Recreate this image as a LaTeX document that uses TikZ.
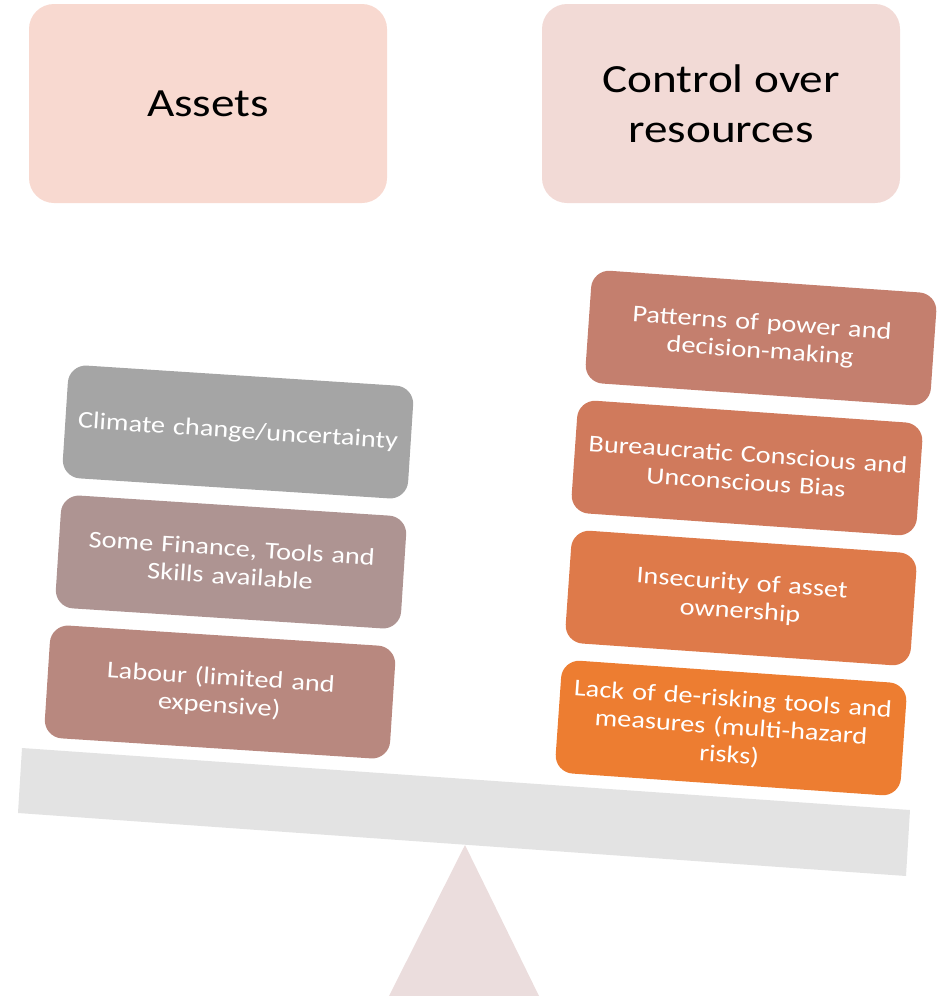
\documentclass[tikz,border=0pt]{standalone}
\usepackage{fontspec}
\setmainfont{Carlito}[FakeStretch=1.18]
\definecolor{hdrA}{HTML}{F8D9D0}
\definecolor{hdrB}{HTML}{F2DAD6}
\definecolor{cClimate}{HTML}{A5A5A5}
\definecolor{cFinance}{HTML}{AE9492}
\definecolor{cLabour}{HTML}{B8887F}
\definecolor{cPatterns}{HTML}{C47F6E}
\definecolor{cBureau}{HTML}{D07A5C}
\definecolor{cInsec}{HTML}{DE7A4A}
\definecolor{cLack}{HTML}{ED7D31}
\definecolor{cBeam}{HTML}{E3E3E3}
\definecolor{cFulcrum}{HTML}{EBDDDD}
\tikzset{
  header/.style={rounded corners=25pt, minimum width=358pt, minimum height=199pt,
    inner sep=0pt, align=center, font=\fontsize{40}{50}\selectfont, text=black},
  block/.style={rounded corners=18pt, minimum width=346pt, minimum height=113pt,
    inner sep=0pt, text width=340pt, align=center, text=white,
    font=\fontsize{24}{28}\selectfont},
  leftblock/.style={block, rotate=-3.7},
  rightblock/.style={block, rotate=-4},
}
\begin{document}
\begin{tikzpicture}[x=1pt,y=-1pt]
\useasboundingbox (0,0) rectangle (947,996);
% headers
\node[header, fill=hdrA] (assets) at (208,103.5) {Assets};
\node[header, fill=hdrB] (control) at (721,103.5) {Control over\\resources};
% fulcrum and beam
\fill[cFulcrum] (465,845) -- (539,996) -- (389,996) -- cycle;
\fill[cBeam] (22,748) -- (910,810) -- (906,876) -- (18,813) -- cycle;
% left stack
\node[leftblock, fill=cClimate] (climate) at (238,432) {Climate change/uncertainty};
\node[leftblock, fill=cFinance] (finance) at (231,562) {Some Finance, Tools and\\Skills available};
\node[leftblock, fill=cLabour] (labour) at (220,692) {Labour (limited and\\expensive)};
% right stack
\node[rightblock, fill=cPatterns] (patterns) at (761,338) {Patterns of power and\\decision-making};
\node[rightblock, fill=cBureau] (bureau) at (747,468) {Bureaucratic Conscious and\\Unconscious Bias};
\node[rightblock, fill=cInsec] (insec) at (741,598) {Insecurity of asset\\ownership};
\node[rightblock, fill=cLack] (lack) at (731,728) {Lack of de-risking tools and\\measures (multi-hazard\\risks)};
\end{tikzpicture}
\end{document}
